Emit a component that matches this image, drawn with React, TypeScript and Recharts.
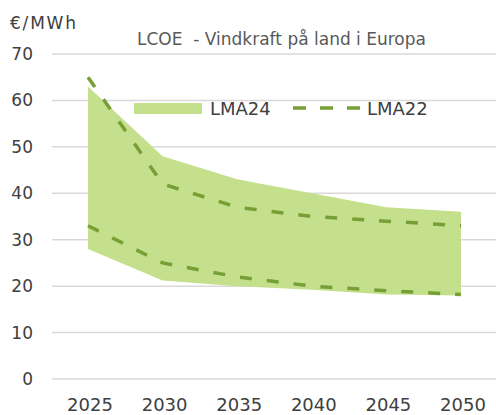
import React from 'react'
import { ComposedChart, Area, Line, XAxis, YAxis, CartesianGrid, Legend } from "recharts";

const years = ["2025", "2030", "2035", "2040", "2045", "2050"];
const lma24Low = [28, 21.2, 20, 19.2, 18.2, 18];
const lma24High = [63, 48, 43, 40, 37, 36];
const lma22Low = [33, 25, 22, 20, 19, 18.2];
const lma22High = [65, 42, 37, 35, 34, 33];
const yTicks = [0, 10, 20, 30, 40, 50, 60, 70];

const chartData = years.map((year, i) => ({
    year,
    lma24: [lma24Low[i], lma24High[i]],
    lma22Low: lma22Low[i],
    lma22High: lma22High[i],
}));

const FONT = "'DejaVu Sans', sans-serif";
const AREA_COLOR = "#C5E08D";
const LINE_COLOR = "#76A035";

function ChartLegend() {
    return (
        <svg width={310} height={24} style={{ display: "block", fontFamily: FONT }}>
            <rect x={4} y={8} width={68} height={11} fill={AREA_COLOR} />
            <text x={80} y={20} fontSize={18} fill="#404040">LMA24</text>
            <line x1={163} y1={13} x2={233} y2={13} stroke={LINE_COLOR} strokeWidth={3.5} strokeDasharray="13 14" />
            <text x={237} y={20} fontSize={18} fill="#404040">LMA22</text>
        </svg>
    )
}

function App() {
    return (
        <div style={{ position: "absolute", left: 0, top: 0, width: 496, height: 415, background: "#fff", fontFamily: FONT }}>
            <div style={{ position: "absolute", left: 10, top: 13, fontSize: 17, letterSpacing: 1.8, color: "#404040" }}>€/MWh</div>
            <div style={{ position: "absolute", left: 0, width: 563, top: 29, textAlign: "center", fontSize: 17, color: "#595959", whiteSpace: "pre" }}>
                LCOE  - Vindkraft på land i Europa
            </div>
            <ComposedChart width={496} height={415} data={chartData} margin={{ top: 54, right: 0, left: 0, bottom: 0 }}>
                <CartesianGrid vertical={false} stroke="#d9d9d9" strokeWidth={1.5} />
                <XAxis
                    dataKey="year"
                    height={36}
                    axisLine={false}
                    tickLine={false}
                    tickSize={0}
                    tickMargin={19}
                    padding={{ left: 36, right: 35 }}
                    tick={{ fontSize: 18, fill: "#404040", fontFamily: FONT, dx: 2 }}
                />
                <YAxis
                    domain={[0, 70]}
                    ticks={yTicks}
                    width={52}
                    axisLine={false}
                    tickLine={false}
                    tickSize={0}
                    tickMargin={19}
                    tick={{ fontSize: 17, fill: "#404040", fontFamily: FONT }}
                />
                <Legend
                    layout="horizontal"
                    verticalAlign="middle"
                    wrapperStyle={{ top: 95, left: 130, width: 310 }}
                    content={() => <ChartLegend />}
                />
                <Area dataKey="lma24" name="LMA24" type="linear" fill={AREA_COLOR} fillOpacity={1} stroke="none" isAnimationActive={false} />
                <Line dataKey="lma22High" name="LMA22" type="linear" stroke={LINE_COLOR} strokeWidth={3.5} strokeDasharray="12 15" dot={false} isAnimationActive={false} />
                <Line dataKey="lma22Low" name="LMA22 low" type="linear" stroke={LINE_COLOR} strokeWidth={3.5} strokeDasharray="12 15" dot={false} isAnimationActive={false} legendType="none" />
            </ComposedChart>
        </div>
    )
}

export default App
